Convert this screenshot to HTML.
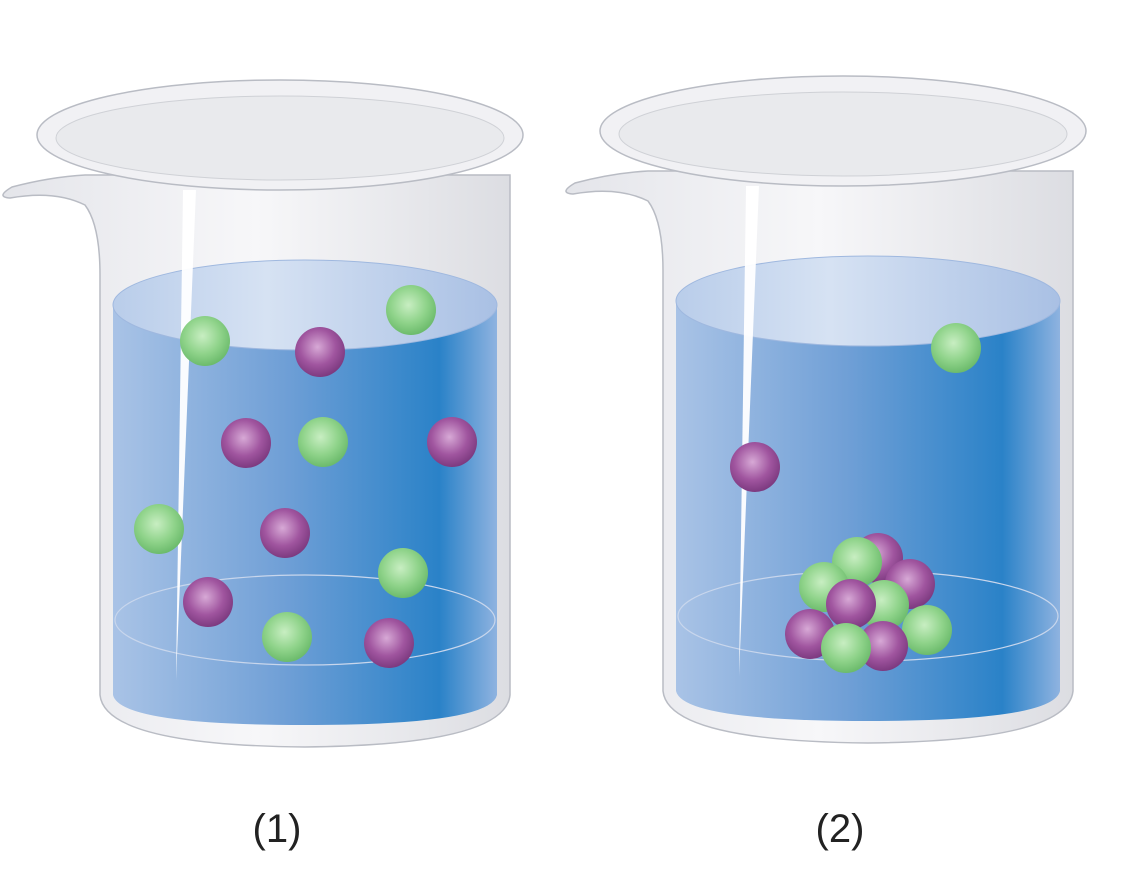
<!DOCTYPE html>
<html><head><meta charset="utf-8"><style>
html,body{margin:0;padding:0;background:#fff;width:1121px;height:888px;overflow:hidden}
svg{display:block}
</style></head><body>
<svg width="1121" height="888" viewBox="0 0 1121 888" xmlns="http://www.w3.org/2000/svg">
<defs>
<linearGradient id="water" x1="0" x2="1" y1="0" y2="0">
<stop offset="0" stop-color="#a9c3e6"/><stop offset="0.45" stop-color="#6f9fd6"/><stop offset="0.85" stop-color="#2a82c8"/><stop offset="1" stop-color="#8fb3e0"/></linearGradient>
<linearGradient id="glass" x1="0" x2="1"><stop offset="0" stop-color="#e4e5ea"/><stop offset="0.5" stop-color="#f7f7f9"/><stop offset="1" stop-color="#dcdde2"/></linearGradient>
<linearGradient id="surf" x1="0" x2="1"><stop offset="0" stop-color="#b9cdea"/><stop offset="0.4" stop-color="#d6e2f3"/><stop offset="1" stop-color="#a9c0e4"/></linearGradient>
<radialGradient id="gball" cx="0.45" cy="0.4" r="0.6"><stop offset="0" stop-color="#c8eec2"/><stop offset="0.6" stop-color="#8fd38a"/><stop offset="1" stop-color="#6cbb6c"/></radialGradient>
<radialGradient id="pball" cx="0.45" cy="0.4" r="0.6"><stop offset="0" stop-color="#d7a9d6"/><stop offset="0.6" stop-color="#a0559f"/><stop offset="1" stop-color="#7d3a80"/></radialGradient>
<g id="beaker">
 <path d="M-195,40 Q-230,42 -268,52 Q-285,62 -270,63 Q-225,55 -195,70 Q-180,90 -180,140 L-180,560 Q-175,610 25,612 Q225,610 230,560 L230,40 Z" fill="url(#glass)" stroke="#b9bcc4" stroke-width="1.5"/>
 <ellipse cx="0" cy="0" rx="243" ry="55" fill="#f1f1f4" stroke="#b9bcc4" stroke-width="1.5"/>
 <ellipse cx="0" cy="3" rx="224" ry="42" fill="#e9eaed" stroke="#cfd1d6"/>
</g>
</defs>
<g transform="translate(280,135)">
 <use href="#beaker"/>
 <path d="M-167,170 L-167,560 Q-160,590 25,590 Q210,590 217,560 L217,170 Z" fill="url(#water)"/>
 <ellipse cx="25" cy="485" rx="190" ry="45" fill="none" stroke="#c8d6ec" stroke-width="1.2"/>
 <ellipse cx="25" cy="170" rx="192" ry="45" fill="url(#surf)" stroke="#9fb8df"/>
 <path d="M-97,55 L-84,55 L-104,545 Z" fill="#ffffff" opacity="0.95"/>
</g>
<g transform="translate(843,131)">
 <use href="#beaker"/>
 <path d="M-167,170 L-167,560 Q-160,590 25,590 Q210,590 217,560 L217,170 Z" fill="url(#water)"/>
 <ellipse cx="25" cy="485" rx="190" ry="45" fill="none" stroke="#c8d6ec" stroke-width="1.2"/>
 <ellipse cx="25" cy="170" rx="192" ry="45" fill="url(#surf)" stroke="#9fb8df"/>
 <path d="M-97,55 L-84,55 L-104,545 Z" fill="#ffffff" opacity="0.95"/>
</g>
<g id="balls"></g>
<text x="277" y="842" font-family="Liberation Sans, sans-serif" font-size="40" text-anchor="middle" fill="#222">(1)</text>
<text x="840" y="842" font-family="Liberation Sans, sans-serif" font-size="40" text-anchor="middle" fill="#222">(2)</text>
</svg>
<script>
const ballX=[205,411,323,159,403,287,320,246,452,285,208,389,956,755,878,857,910,824,884,851,927,810,883,846];
const ballY=[341,310,442,529,573,637,352,443,442,533,602,643,348,467,558,562,584,587,605,604,630,634,646,648];
const ballType=['g','g','g','g','g','g','p','p','p','p','p','p','g','p','p','g','p','g','g','p','g','p','p','g'];
const g=document.getElementById('balls');
for(let i=0;i<ballX.length;i++){
 const c=document.createElementNS('http://www.w3.org/2000/svg','circle');
 c.setAttribute('cx',ballX[i]);c.setAttribute('cy',ballY[i]);c.setAttribute('r',25);
 c.setAttribute('fill',ballType[i]==='g'?'url(#gball)':'url(#pball)');
 
 
 g.appendChild(c);
}
</script>
</body></html>
